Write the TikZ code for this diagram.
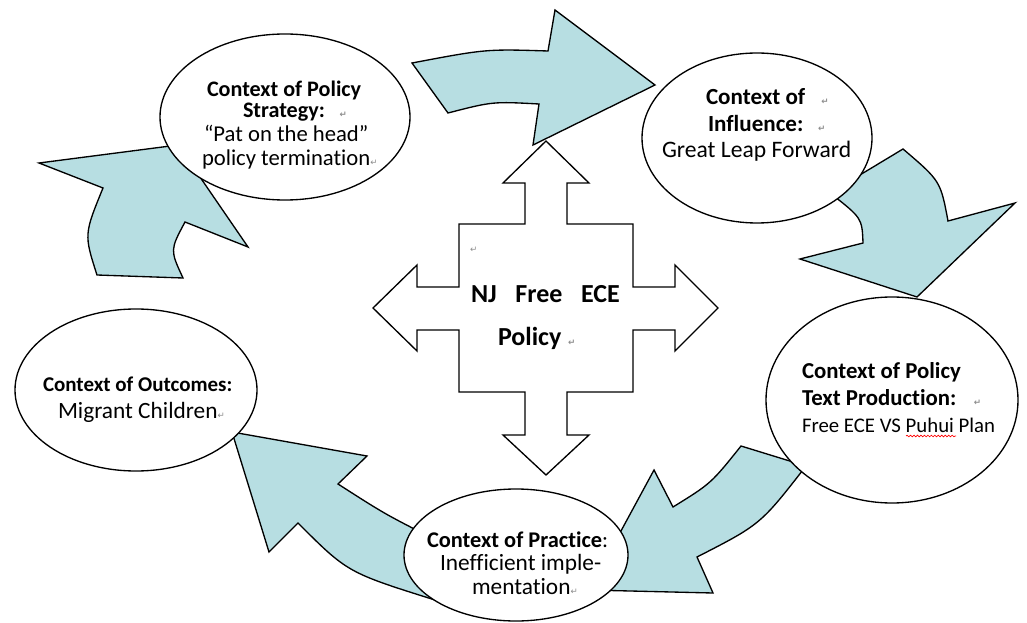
\documentclass[tikz,border=0pt]{standalone}
\usepackage{fontspec}
\setmainfont{Carlito}[Ligatures=NoCommon]
\newfontfamily\symfont{DejaVu Sans}
\usetikzlibrary{shapes.geometric,decorations.pathmorphing}
\definecolor{arrowfill}{RGB}{183,222,226}
\newcommand{\pmk}{{\symfont\fontsize{6.5}{7}\selectfont\textcolor{black!45}{↵}}}
\begin{document}
\begin{tikzpicture}[x=0.75pt,y=-0.75pt,
  ctx/.style={ellipse, draw, fill=white, line width=1pt, inner sep=0pt, outer sep=0pt},
  blockarrow/.style={draw, fill=arrowfill, line width=1pt},
  crossshape/.style={draw, fill=white, line width=1pt},
  lbl/.style={anchor=base west, inner sep=0pt, outer sep=0pt},
  hd/.style={font=\bfseries\fontsize{#1}{#1}\selectfont},
  bd/.style={font=\fontsize{#1}{#1}\selectfont}]
\useasboundingbox (0,0) rectangle (1027,623);
\clip (0,0) rectangle (1027,623);

% central four-way arrow
\draw[crossshape] (546,141) -- (589,183) -- (567,183) -- (567,224) -- (633,224) -- (633,287)
  -- (675,287) -- (675,265) -- (718,308) -- (675,351) -- (675,330) -- (633,330) -- (633,392)
  -- (567,392) -- (567,435) -- (589,435) -- (546,475) -- (503,435) -- (525,435) -- (525,392)
  -- (459,392) -- (459,330) -- (417,330) -- (417,351) -- (373,308) -- (417,265) -- (417,287)
  -- (459,287) -- (459,224) -- (525,224) -- (525,183) -- (503,183) -- cycle;

% curved block arrows
\draw[blockarrow] (97,275) .. controls (84,234.5) .. (103,188) -- (39,163) -- (178,145)
  -- (248,247) -- (185,222) .. controls (170,250) .. (183,278) -- cycle;
\draw[blockarrow] (412,63) .. controls (486,49) .. (548,51) -- (555,10) -- (655,85)
  -- (533,145) -- (539,104) .. controls (492.5,101.5) .. (448,113) -- cycle;
\draw[blockarrow] (830,193) -- (903,149) .. controls (940.5,181) .. (948,221) -- (1015,203)
  -- (917,297) -- (800,259) -- (863,243) .. controls (862,218) .. (830,193) -- cycle;
\draw[blockarrow] (741,446) -- (806,466) .. controls (760.5,524.5) .. (697,557) -- (713,593)
  -- (589,590) -- (654,470) -- (673,507) .. controls (711,483.5) .. (741,446) -- cycle;
\draw[blockarrow] (430,537) -- (435,600) .. controls (347.5,572.5) .. (298,523) -- (269,552)
  -- (232,432) -- (367,456) -- (338,484) .. controls (384,513.5) .. (430,537) -- cycle;

% context ellipses
\node[ctx, minimum width=250*0.75pt, minimum height=166*0.75pt] (strat) at (285,117) {};
\node[ctx, minimum width=230*0.75pt, minimum height=170*0.75pt] (infl) at (757,138) {};
\node[ctx, minimum width=252*0.75pt, minimum height=206*0.75pt] (textp) at (892,400) {};
\node[ctx, minimum width=242*0.75pt, minimum height=162*0.75pt] (outc) at (136,390) {};
\node[ctx, minimum width=224*0.75pt, minimum height=132*0.75pt] (pract) at (516,555) {};

% texts: policy strategy
\node[lbl, hd=16.6] (s1) at (207,97) {Context of Policy};
\node[lbl, hd=16.6] (s2) at (243,118) {Strategy:\hspace{11pt}\pmk};
\node[lbl, bd=17] (s3) at (204,142) {“Pat on the head”};
\node[lbl, bd=17] (s4) at (202,166) {policy termination\pmk};

% influence
\node[lbl, hd=17.3] (i1) at (706,105) {Context of\hspace{12pt}\pmk};
\node[lbl, hd=17.3] (i2) at (708,132) {Influence:\hspace{11pt}\pmk};
\node[lbl, bd=17.7] (i3) at (662,158) {Great Leap Forward};

% text production
\node[lbl, hd=17.1] (t1) at (802,378) {Context of Policy};
\node[lbl, hd=17.1] (t2) at (802,405) {Text Production:\hspace{13pt}\pmk};
\node[lbl, bd=15.6] (t3) at (802,432) {Free ECE VS Puhui Plan};
\draw[red, line width=0.5pt, decorate, decoration={snake, amplitude=0.6pt, segment length=2.6pt}]
  (906,436) -- (956,436);

% outcomes
\node[lbl, hd=15.75] (o1) at (43,391) {Context of Outcomes:};
\node[lbl, bd=17.5] (o2) at (58,418) {Migrant Children\pmk};

% practice
\node[lbl, hd=16.8] (p1) at (427,547) {Context of Practice\textmd{:}};
\node[lbl, bd=17.5] (p2) at (440,570) {Inefficient imple-};
\node[lbl, bd=17.5] (p3) at (472,594) {mentation\pmk};

% centre
\node[lbl] (cm) at (470,253) {\pmk};
\node[lbl, hd=19.5] (c1) at (471,303) {NJ\hspace{14pt}Free\hspace{14pt}ECE};
\node[lbl, hd=19.5] (c2) at (498,345) {Policy\hspace{5pt}\pmk};
\end{tikzpicture}
\end{document}
